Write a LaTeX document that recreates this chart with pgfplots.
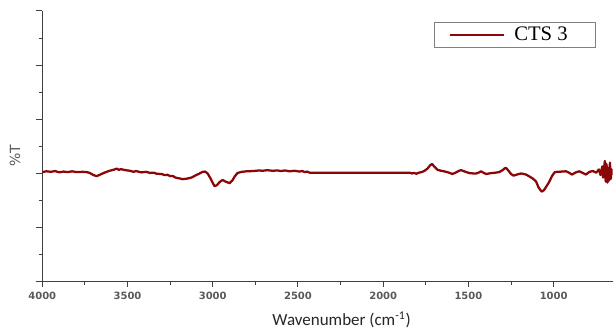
\documentclass[border=0pt]{standalone}
\usepackage{fontspec}
\usepackage{pgfplots}
\pgfplotsset{compat=1.18}
\newfontfamily\tickfont{DejaVu Sans}
\newfontfamily\lblfont{Carlito}
\newfontfamily\lgfont{Liberation Serif}
\definecolor{curve}{RGB}{139,6,6}
\definecolor{axgray}{RGB}{64,64,64}
\definecolor{tickgray}{RGB}{89,89,89}
\begin{document}
\begin{tikzpicture}
\begin{axis}[
  name=a,
  scale only axis,
  width=428pt, height=203.25pt,
  x dir=reverse,
  xmin=655, xmax=4000,
  ymin=0, ymax=100,
  axis x line*=bottom, axis y line*=left,
  axis line style={axgray, line width=0.75pt},
  xtick={1000,1500,2000,2500,3000,3500,4000},
  minor x tick num=1,
  ytick={0,20,40,60,80,100},
  minor y tick num=1,
  yticklabels={},
  tick align=outside,
  tick style={axgray, line width=0.75pt},
  major tick length=4pt,
  minor tick length=2.25pt,
  y tick style={/pgfplots/major tick length=5pt},
  /pgf/number format/1000 sep={},
  /pgf/number format/assume math mode=true,
  xticklabel style={font=\tickfont\bfseries\fontsize{7.5}{9}\selectfont, text=tickgray},
  xlabel={Wavenumber (cm\textsuperscript{-1})},
  xlabel style={font=\lblfont\fontsize{12.75}{15}\selectfont, text=black!85, at={(axis description cs:0.525,-0.1624)}, anchor=base},
  ylabel={\%T},
  ylabel style={font=\tickfont\fontsize{10.5}{12}\selectfont, text=tickgray, at={(axis description cs:-0.0478,0.465)}, anchor=center},
  legend style={at={(0.970,0.9605)}, anchor=north east, draw=gray, line width=0.6pt, fill=white,
    font=\lgfont\fontsize{15.5}{17}\selectfont, inner xsep=11pt, inner ysep=2.5pt, column sep=6pt,
    nodes={inner sep=1pt}},
  legend image code/.code={\draw[curve, line width=1.5pt] (0pt,0pt) -- (40.5pt,0pt);},
]
\addplot[curve, line width=1.7pt, line join=round] coordinates {
(4000,40.5) (3975,40.8) (3950,40.6) (3925,40.9) (3900,40.4) (3875,40.7) (3850,40.5) (3825,40.8) (3800,40.5) (3762,40.6) (3740,40.5)
(3721,40.2) (3700,39.4) (3680,39.0) (3660,39.6) (3639,40.2) (3610,40.9) (3580,41.4) (3563,41.8) (3550,41.3)
(3540,41.6) (3510,41.2) (3486,41.0) (3465,40.6) (3450,40.9) (3420,40.4) (3390,40.6) (3369,40.2) (3345,40.3) (3330,39.9)
(3300,39.8) (3282,39.4) (3265,39.5) (3250,39.0) (3235,39.1) (3220,38.5) (3190,38.1) (3176,37.9) (3150,38.1) (3124,38.5)
(3100,39.3) (3080,39.9) (3059,40.6) (3045,40.7) (3030,40.0) (3015,38.4) (3000,36.5) (2989,35.3)
(2975,35.7) (2960,36.8) (2942,37.6) (2925,37.0) (2901,36.4) (2885,37.4) (2870,39.0) (2854,40.2)
(2830,40.6) (2800,40.8) (2760,40.9) (2730,41.1) (2708,41.0) (2680,41.2) (2650,41.0) (2620,41.1) (2600,40.9) (2575,41.1) (2550,40.8)
(2520,41.0) (2491,40.7) (2475,40.9) (2460,40.5) (2445,40.7) (2433,40.3)
(1847,40.3) (1830,40.0) (1820,40.2) (1806,39.9) (1790,40.3) (1775,40.5) (1760,40.9) (1740,41.8) (1725,43.0)
(1713,43.5) (1700,42.5) (1680,41.3) (1660,41.0) (1630,40.6) (1610,40.2) (1595,39.8) (1575,40.3)
(1555,41.0) (1543,41.2) (1525,40.8) (1513,40.5) (1490,40.1) (1470,40.0) (1455,40.0) (1440,40.3)
(1426,40.8) (1410,40.2) (1396,39.8) (1370,40.1) (1340,40.3) (1320,40.5) (1300,41.2) (1285,42.0)
(1279,42.0) (1265,41.0) (1250,39.8) (1235,39.2) (1210,39.7) (1190,40.0) (1162,39.6) (1140,38.8)
(1120,38.0) (1103,37.0) (1090,35.0) (1075,33.6) (1068,33.3) (1055,34.0) (1040,35.5) (1027,36.8)
(1010,39.0) (995,40.4) (980,40.6) (950,40.7) (928,40.8) (910,40.3) (893,39.6) (870,40.4) (850,40.8)
(830,40.2) (811,39.6) (790,40.6) (770,40.9) (750,40.3) (735,41.5) (725,39.4) (715,42.6) (710,38.5)
(700,44.6) (695,37.0) (690,43.5) (685,36.6) (680,42.0) (675,37.4) (670,44.0) (665,38.0) (660,41.5) (655,39.5)
};
\addlegendentry{CTS 3\rule{8.5pt}{0pt}}
\end{axis}
\path ([shift={(-31.725pt,-36.75pt)}]a.south west) rectangle ([shift={(0pt,8.25pt)}]a.north east);
\end{tikzpicture}
\end{document}
